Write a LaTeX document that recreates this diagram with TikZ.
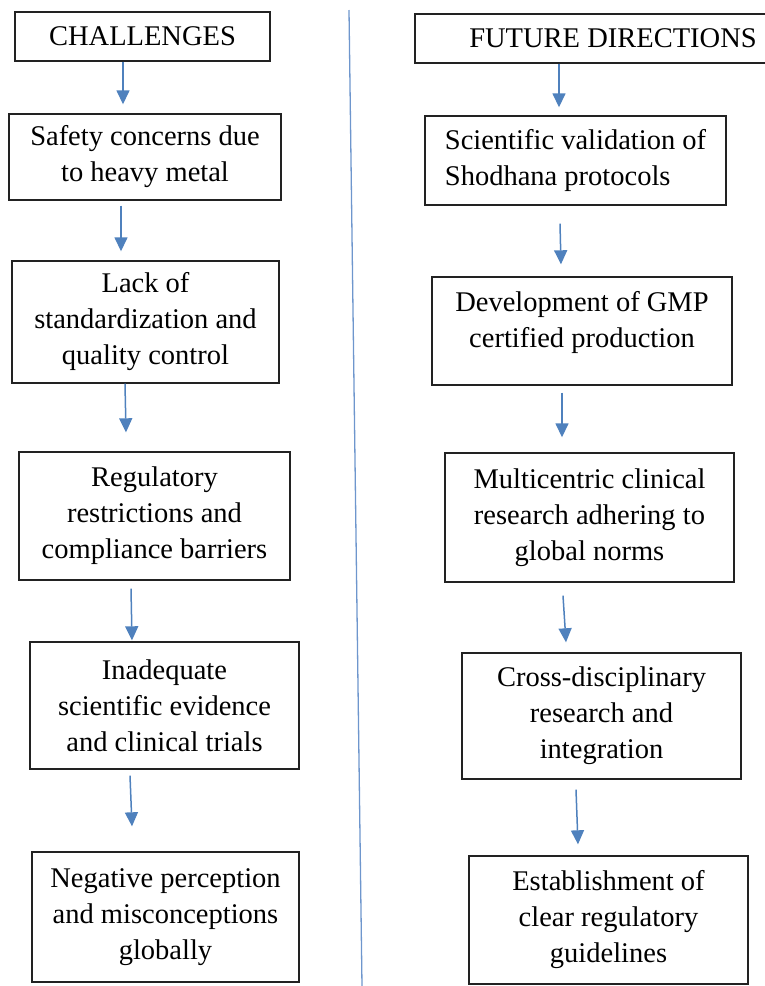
\documentclass[tikz,border=0pt]{standalone}
\usepackage{fontspec}
\setmainfont{Liberation Serif}
\usetikzlibrary{arrows.meta}
\definecolor{framecol}{RGB}{34,34,34}
\definecolor{arrowcol}{RGB}{79,129,189}
\definecolor{rulecol}{RGB}{110,150,205}
\begin{document}
\begin{tikzpicture}[x=1pt,y=-1pt,
  box/.style={draw=framecol,line width=1.4pt,align=center,inner sep=0pt,
    font=\fontsize{28.5}{36}\selectfont},
  flow/.style={draw=arrowcol,line width=1.5pt,-{Triangle[width=13pt,length=14pt]}},
  divider/.style={draw=rulecol,line width=1.3pt}]
\useasboundingbox (0,0) rectangle (765,986);
\clip (0,0) rectangle (765,986);

% left column: challenges
\node[box,minimum width=255pt,minimum height=49pt] (c0) at (142.5,36.5) {CHALLENGES};
\node[box,minimum width=272pt,minimum height=86pt] (c1) at (145,157) {Safety concerns due\\to heavy metal};
\node[box,minimum width=267pt,minimum height=122pt] (c2) at (145.5,322) {Lack of\\standardization and\\quality control};
\node[box,minimum width=271pt,minimum height=128pt] (c3) at (154.5,516) {Regulatory\\restrictions and\\compliance barriers};
\node[box,minimum width=269pt,minimum height=127pt] (c4) at (164.5,705.5) {Inadequate\\scientific evidence\\and clinical trials};
\node[box,minimum width=267pt,minimum height=130pt] (c5) at (165.5,917) {Negative perception\\and misconceptions\\globally};

% right column: future directions
\node[box,minimum width=396pt,minimum height=49pt] (f0) at (613,38.5) {FUTURE DIRECTIONS};
\node[box,align=left,minimum width=301pt,minimum height=89pt] (f1) at (575.5,160.5) {Scientific validation of\\Shodhana protocols};
\node[box,minimum width=300pt,minimum height=108pt,text depth=24pt] (f2) at (582,331) {Development of GMP\\certified production};
\node[box,minimum width=289pt,minimum height=129pt] (f3) at (589.5,517.5) {Multicentric clinical\\research adhering to\\global norms};
\node[box,minimum width=279pt,minimum height=126pt] (f4) at (601.5,716) {Cross-disciplinary\\research and\\integration};
\node[box,minimum width=279pt,minimum height=128pt] (f5) at (608.5,920) {Establishment of\\clear regulatory\\guidelines};

% dividing rule between the columns
\coordinate (ruleTop) at (349,10);
\coordinate (ruleBot) at (362,986);
\draw[divider] (ruleTop) -- (ruleBot);

% left flow
\draw[flow] ([xshift=-19.5pt]c0.south) -- ([xshift=-22pt,yshift=9pt]c1.north);
\draw[flow] ([xshift=-24pt,yshift=-5pt]c1.south) -- ([xshift=-24.5pt,yshift=9pt]c2.north);
\draw[flow] ([xshift=-20.5pt]c2.south) -- ([xshift=-28.5pt,yshift=19pt]c3.north);
\draw[flow] ([xshift=-23.5pt,yshift=-8pt]c3.south) -- ([xshift=-32.5pt,yshift=1pt]c4.north);
\draw[flow] ([xshift=-34.5pt,yshift=-6pt]c4.south) -- ([xshift=-33.5pt,yshift=25pt]c5.north);

% right flow
\draw[flow] ([xshift=-54pt]f0.south) -- ([xshift=-16.5pt,yshift=8pt]f1.north);
\draw[flow] ([xshift=-15.5pt,yshift=-18pt]f1.south) -- ([xshift=-21pt,yshift=12pt]f2.north);
\draw[flow] ([xshift=-20pt,yshift=-7pt]f2.south) -- ([xshift=-27.5pt,yshift=15pt]f3.north);
\draw[flow] ([xshift=-26.5pt,yshift=-13pt]f3.south) -- ([xshift=-35.5pt,yshift=10pt]f4.north);
\draw[flow] ([xshift=-25.5pt,yshift=-10pt]f4.south) -- ([xshift=-30.5pt,yshift=11pt]f5.north);
\end{tikzpicture}
\end{document}
